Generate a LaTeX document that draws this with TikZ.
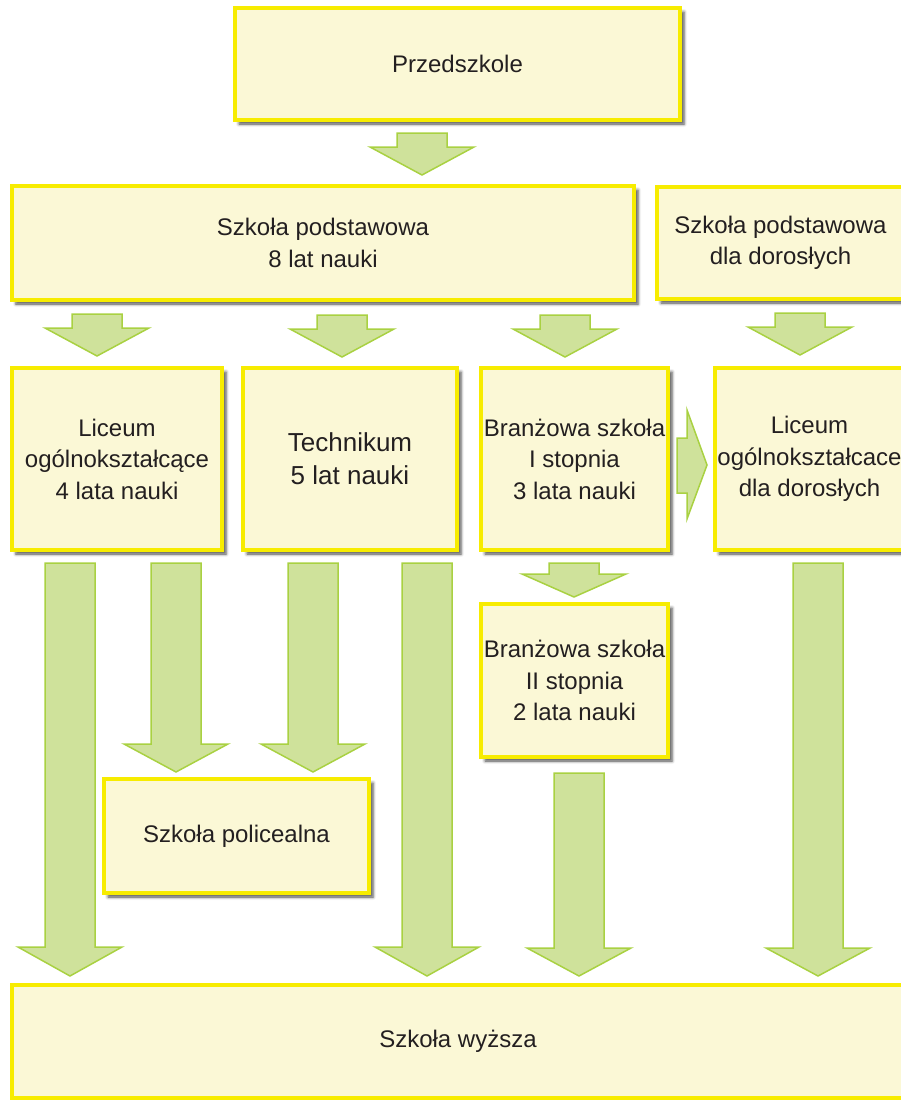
\documentclass[tikz,border=0pt]{standalone}
\usepackage{fontspec}
\setmainfont{Liberation Sans}
\usetikzlibrary{shadows.blur}
\definecolor{ramka}{HTML}{F7EC00}
\definecolor{tlo}{HTML}{FBF8D6}
\definecolor{zielen}{HTML}{CFE29B}
\definecolor{zielenb}{HTML}{A9D142}
\definecolor{tekst}{HTML}{231F20}
\tikzset{
    box/.style 2 args={rectangle,draw=ramka,fill=tlo,line width=3.5pt,
        minimum width=#1pt,minimum height=#2pt,inner sep=0pt,align=center,
        text=tekst,font=\fontsize{24}{31.5}\selectfont,
        blur shadow={shadow xshift=4pt,shadow yshift=-4pt,shadow blur radius=3pt,shadow opacity=70}},
    strz/.style={draw=zielenb,fill=zielen,line width=1.5pt,line join=miter}}
\newcommand{\strzalka}[4]{\draw[strz] (#1-25,#2) -- (#1+25,#2) -- (#1+25,#3) -- (#1+52,#3) -- (#1,#4) -- (#1-52,#3) -- (#1-25,#3) -- cycle;}
\begin{document}
\begin{tikzpicture}[x=1pt,y=-1pt]
        \useasboundingbox (0,0) rectangle (901,1100);
        \clip (0,0) rectangle (901,1100);
        \node[box={445}{112}] (przed) at (457.5,64) {Przedszkole};
        \node[box={622}{114}] (pods) at (323,243) {Szkoła podstawowa\\8 lat nauki};
        \node[box={247}{112}] (podsd) at (780.5,243) {Szkoła podstawowa\\dla dorosłych};
        \node[box={210}{182}] (lic) at (117,459) {Liceum\\ogólnokształcące\\4 lata nauki};
        \node[box={214}{182},font=\fontsize{26}{33}\selectfont] (tech) at (350,459) {Technikum\\5 lat nauki};
        \node[box={187}{182}] (br1) at (574.5,459) {Branżowa szkoła\\I stopnia\\3 lata nauki};
        \node[box={189}{182}] (licd) at (809.5,459) {Liceum\\ogólnokształcace\\dla dorosłych};
        \node[box={187}{153}] (br2) at (574.5,680.5) {Branżowa szkoła\\II stopnia\\2 lata nauki};
        \node[box={265}{114}] (pol) at (236.5,836) {Szkoła policealna};
        \node[box={892}{113}] (wyz) at (458,1041.5) {Szkoła wyższa};
        \strzalka{422}{133}{147}{175}
        \strzalka{97}{314}{328}{356}
        \strzalka{342}{315}{329}{357}
        \strzalka{565}{315}{329}{357}
        \strzalka{800}{313}{327}{355}
        \strzalka{574}{563}{574}{597}
        \strzalka{70}{563}{947}{976}
        \strzalka{176}{563}{744}{772}
        \strzalka{313}{563}{744}{772}
        \strzalka{427}{563}{947}{976}
        \strzalka{579}{773}{948}{976}
        \strzalka{818}{563}{948}{976}
        \draw[strz] (677,438) -- (687,438) -- (687,410) -- (707,465) -- (687,519) -- (687,493) -- (677,493) -- cycle;
    \end{tikzpicture}
\end{document}
